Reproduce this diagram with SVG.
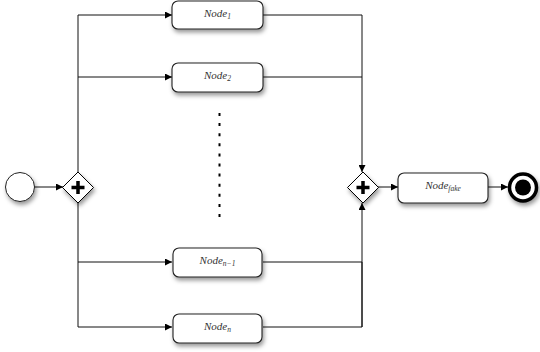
<svg xmlns="http://www.w3.org/2000/svg" width="540" height="352" viewBox="0 0 540 352">
<defs>
<filter id="sh" x="-30%" y="-30%" width="160%" height="170%">
<feDropShadow dx="1.5" dy="3" stdDeviation="2.2" flood-color="#000" flood-opacity="0.4"/>
</filter>
<marker id="ar" viewBox="0 0 10 10" refX="10" refY="5" markerWidth="9" markerHeight="7" markerUnits="userSpaceOnUse" orient="auto">
<path d="M0,0 L10,5 L0,10 Z" fill="#000"/>
</marker>
<style>
.task{fill:#fff;stroke:#222;stroke-width:1.1;filter:url(#sh)}
.lbl{font-family:"Liberation Serif",serif;font-style:italic;font-size:11px;fill:#333}
.sub{font-size:7.5px}
.con{fill:none;stroke:#111;stroke-width:1}
.arr{marker-end:url(#ar)}
.gw{fill:#fff;stroke:#000;stroke-width:1;filter:url(#sh)}
.cross{fill:none;stroke:#000;stroke-width:3.5}
</style>
</defs>
<rect width="540" height="352" fill="#fff"/>
<g id="connectors">
<line class="con arr" x1="34" y1="187" x2="63" y2="187"/>
<line class="con" x1="78" y1="15" x2="78" y2="327"/>
<line class="con arr" x1="78" y1="15" x2="172" y2="15"/>
<line class="con arr" x1="78" y1="77" x2="172" y2="77"/>
<line class="con arr" x1="78" y1="262" x2="172" y2="262"/>
<line class="con arr" x1="78" y1="327" x2="172" y2="327"/>
<polyline class="con" points="263,15 362,15 362,77"/>
<polyline class="con arr" points="263,77 362,77 362,172"/>
<polyline class="con" points="263,262 362,262 362,327"/>
<polyline class="con arr" points="263,327 362,327 362,203"/>
<line class="con arr" x1="378" y1="187" x2="398" y2="187"/>
<line class="con arr" x1="488" y1="187" x2="508" y2="187"/>
<line x1="219.5" y1="113" x2="219.5" y2="218" stroke="#000" stroke-width="2" stroke-dasharray="3 7.1"/>
</g>
<g id="start">
<circle cx="20" cy="187" r="14.5" fill="#fff" stroke="#222" stroke-width="1" filter="url(#sh)"/>
</g>
<g id="split">
<path class="gw" d="M78,172 L93.5,187.5 L78,203 L62.5,187.5 Z"/>
<path class="cross" d="M78,181 V194 M71.5,187.5 H84.5"/>
</g>
<g id="node1">
<rect class="task" x="172" y="1" width="91" height="28" rx="6"/>
<text class="lbl" x="217.5" y="17" text-anchor="middle">Node<tspan class="sub" dy="2">1</tspan></text>
</g>
<g id="node2">
<rect class="task" x="172" y="63" width="91" height="29" rx="6"/>
<text class="lbl" x="217.5" y="79" text-anchor="middle">Node<tspan class="sub" dy="2">2</tspan></text>
</g>
<g id="noden1">
<rect class="task" x="173" y="248" width="89" height="29" rx="6"/>
<text class="lbl" x="217.5" y="264" text-anchor="middle">Node<tspan class="sub" dy="2">n−1</tspan></text>
</g>
<g id="noden">
<rect class="task" x="173" y="314" width="89" height="29" rx="6"/>
<text class="lbl" x="217.5" y="330" text-anchor="middle">Node<tspan class="sub" dy="2">n</tspan></text>
</g>
<g id="join">
<path class="gw" d="M363,172 L378.5,187.5 L363,203 L347.5,187.5 Z"/>
<path class="cross" d="M363,181 V194 M356.5,187.5 H369.5"/>
</g>
<g id="nodefake">
<rect class="task" x="398" y="173" width="90" height="30" rx="6"/>
<text class="lbl" x="443" y="189" text-anchor="middle">Node<tspan class="sub" dy="2">fake</tspan></text>
</g>
<g id="end">
<circle cx="523" cy="187.5" r="13.5" fill="#fff" stroke="#000" stroke-width="3.5" filter="url(#sh)"/>
<circle cx="523" cy="187.5" r="8" fill="#000"/>
</g>
</svg>
